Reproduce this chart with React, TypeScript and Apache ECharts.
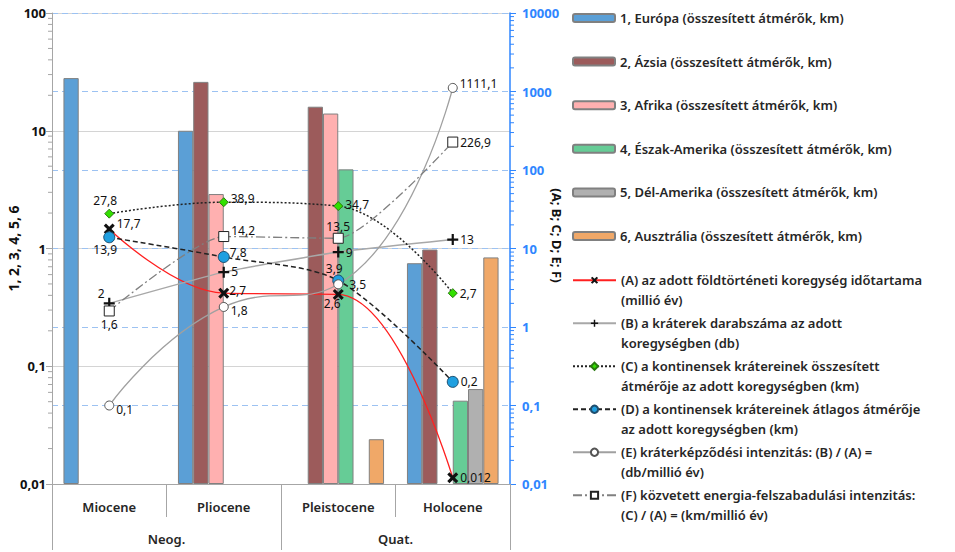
import React, { useEffect, useRef } from 'react';
import * as echarts from 'echarts';

// ---- data ----
const categories = ['Miocene', 'Pliocene', 'Pleistocene', 'Holocene'];
const groups = ['Neog.', 'Quat.'];

const europa = [28, 10, null, 0.75];
const azsia = [null, 26, 16, 0.98];
const afrika = [null, 2.9, 14, null];
const eszakAmerika = [null, null, 4.7, 0.051];
const delAmerika = [null, null, null, 0.064];
const ausztralia = [null, null, 0.024, 0.84];

const durationA = [17.7, 2.7, 2.6, 0.012];
const craterCountB = [2, 5, 9, 13];
const totalDiamC = [27.8, 38.9, 34.7, 2.7];
const avgDiamD = [13.9, 7.8, 3.9, 0.2];
const intensityE = [0.1, 1.8, 3.5, 1111.1];
const energyF = [1.6, 14.2, 13.5, 226.9];

// log-axis minor tick positions (axis decoration)
const minorSteps = [2, 3, 4, 5, 6, 7, 8, 9];
const leftDecades = [0.01, 0.1, 1, 10];
const rightDecades = [0.01, 0.1, 1, 10, 100, 1000];

const barNames = [
  '1, Európa (összesített átmérők, km)',
  '2, Ázsia (összesített átmérők, km)',
  '3, Afrika (összesített átmérők, km)',
  '4, Észak-Amerika (összesített átmérők, km)',
  '5, Dél-Amerika (összesített átmérők, km)',
  '6, Ausztrália (összesített átmérők, km)',
];
const lineNames = [
  ['(A) az adott földtörténeti koregység időtartama', '(millió év)'],
  ['(B) a kráterek darabszáma az adott', 'koregységben (db)'],
  ['(C) a kontinensek krátereinek összesített', 'átmérője az adott koregységben (km)'],
  ['(D) a kontinensek krátereinek átlagos átmérője', 'az adott koregységben (km)'],
  ['(E) kráterképződési intenzitás: (B) / (A) =', '(db/millió év)'],
  ['(F) közvetett energia-felszabadulási intenzitás:', '(C) / (A) = (km/millió év)'],
];

// ---- styles ----
const FONT = 'Noto Sans';
const BLUE = '#2f86ff';
const barColors = ['#5b9fd6', '#9c5b5b', '#ffb0b0', '#66cc96', '#b0b0b0', '#f0a868'];
const X_PATH = 'path://M0,2 L2,0 L5,3 L8,0 L10,2 L7,5 L10,8 L8,10 L5,7 L2,10 L0,8 L3,5 Z';
const PLUS_PATH = 'path://M4,0 L6,0 L6,4 L10,4 L10,6 L6,6 L6,10 L4,10 L4,6 L0,6 L0,4 L4,4 Z';

const fmt = (v: number) => String(Number(Number(v).toPrecision(6))).replace('.', ',');

function lineSeries(idx: number, values: number[], cfg: any) {
  const name = lineNames[idx].join(' ');
  return {
    name,
    type: 'line',
    yAxisIndex: 1,
    smooth: cfg.smooth,
    symbol: cfg.symbol,
    symbolSize: cfg.size,
    z: 5,
    lineStyle: cfg.lineStyle,
    itemStyle: cfg.itemStyle,
    label: {
      show: true,
      formatter: (p: any) => fmt(p.value),
      fontFamily: FONT,
      fontSize: 12,
      color: '#111',
      distance: 2,
    },
    data: values.map((v, i) => ({
      value: v,
      label: { position: cfg.pos[i], offset: cfg.off ? cfg.off[i] : [0, 0] },
    })),
  };
}

function minorTickSeries(axisIndex: number, decades: number[], side: 'left' | 'right', color: string) {
  const vals: number[][] = [];
  decades.forEach((d) => minorSteps.forEach((s) => vals.push([0, Number((s * d).toPrecision(6))])));
  return {
    type: 'custom',
    xAxisIndex: 0,
    yAxisIndex: axisIndex,
    silent: true,
    clip: false,
    z: 6,
    encode: { x: 0, y: 1 },
    data: vals,
    renderItem: (params: any, api: any) => {
      const y = api.coord([0, api.value(1)])[1];
      const cs = params.coordSys;
      const x0 = side === 'left' ? cs.x - 4 : cs.x + cs.width;
      return {
        type: 'line',
        shape: { x1: x0, y1: y, x2: x0 + 4, y2: y },
        style: { stroke: color, lineWidth: 1 },
      };
    },
  };
}

export default function App() {
  const ref = useRef<HTMLDivElement>(null);
  useEffect(() => {
    const chart = echarts.init(ref.current!, null, { renderer: 'svg' });
    const barData = [europa, azsia, afrika, eszakAmerika, delAmerika, ausztralia];
    const bars = barData.map((d, i) => ({
      name: barNames[i],
      type: 'bar',
      yAxisIndex: 0,
      barGap: '0%',
      barCategoryGap: '20%',
      itemStyle: { color: barColors[i], borderColor: '#808080', borderWidth: 1 },
      data: d.map((v) => (v == null ? '-' : v)),
    }));

    const lines = [
      lineSeries(0, durationA, {
        smooth: 0.4, symbol: X_PATH, size: 11,
        lineStyle: { color: '#ff2020', width: 1.3 },
        itemStyle: { color: '#111', borderWidth: 0 },
        pos: ['right', 'right', 'bottom', 'right'],
        off: [[0, -6], [-2, -3], [-6, -4], [0, 0]],
      }),
      lineSeries(1, craterCountB, {
        smooth: 0.15, symbol: PLUS_PATH, size: 11,
        lineStyle: { color: '#a8a8a8', width: 1.5 },
        itemStyle: { color: '#111', borderWidth: 0 },
        pos: ['top', 'right', 'right', 'right'],
        off: [[-8, 4], [0, -1], [0, 0], [0, 0]],
      }),
      lineSeries(2, totalDiamC, {
        smooth: 0.4, symbol: 'diamond', size: 9,
        lineStyle: { color: '#222', width: 1.5, type: [2, 2] },
        itemStyle: { color: '#33e000', borderColor: '#2a7a10', borderWidth: 1 },
        pos: ['top', 'right', 'right', 'right'],
        off: [[-4, 0], [0, -4], [0, -2], [0, 0]],
      }),
      lineSeries(3, avgDiamD, {
        smooth: 0.3, symbol: 'circle', size: 11,
        lineStyle: { color: '#222', width: 1.5, type: [5, 3] },
        itemStyle: { color: '#1f9fe0', borderColor: '#1e4e6e', borderWidth: 1 },
        pos: ['bottom', 'right', 'top', 'right'],
        off: [[-4, -2], [-2, -4], [-4, 2], [0, 0]],
      }),
      lineSeries(4, intensityE, {
        smooth: 0.5, symbol: 'circle', size: 9,
        lineStyle: { color: '#a0a0a0', width: 1.3 },
        itemStyle: { color: '#ffffff', borderColor: '#555', borderWidth: 1 },
        pos: ['right', 'right', 'right', 'right'],
        off: [[0, 4], [0, 4], [4, 0], [0, -4]],
      }),
      lineSeries(5, energyF, {
        smooth: 0.2, symbol: 'rect', size: 10,
        lineStyle: { color: '#808080', width: 1.3, type: [9, 3, 2, 3] },
        itemStyle: { color: '#ffffff', borderColor: '#222', borderWidth: 1 },
        pos: ['bottom', 'right', 'top', 'right'],
        off: [[0, 0], [0, -6], [0, 2], [0, 0]],
      }),
    ];

    const lineLegendText: Record<string, string> = {};
    lineNames.forEach((l) => {
      lineLegendText[l.join(' ')] = '\n' + l[0] + '\n' + l[1];
    });

    const axisLabelFmt = (v: number) => fmt(v);

    chart.setOption({
      animation: false,
      textStyle: { fontFamily: FONT },
      grid: { left: 52, right: 445, top: 13, bottom: 68, containLabel: false },
      legend: [
        {
          orient: 'vertical',
          left: 572,
          top: 9,
          padding: 0,
          itemWidth: 42,
          itemHeight: 8,
          itemGap: 25.6,
          textStyle: { fontFamily: FONT, fontSize: 13, fontWeight: 600, color: '#262626', lineHeight: 18 },
          data: barNames,
        },
        {
          orient: 'vertical',
          left: 572,
          top: 251,
          padding: 0,
          itemWidth: 43,
          itemHeight: 9,
          itemGap: -15.5,
          textStyle: { fontFamily: FONT, fontSize: 13, fontWeight: 600, color: '#262626', lineHeight: 19.5 },
          formatter: (n: string) => lineLegendText[n] || n,
          data: lineNames.map((l) => l.join(' ')),
        },
      ],
      xAxis: [
        {
          type: 'category',
          data: categories,
          position: 'bottom',
          axisLine: { show: true, lineStyle: { color: '#a6a6a6' } },
          axisTick: { show: true, interval: 0, alignWithLabel: false, length: 33, lineStyle: { color: '#a6a6a6' } },
          axisLabel: { margin: 16, fontFamily: FONT, fontSize: 13, fontWeight: 600, color: '#262626' },
        },
        {
          type: 'category',
          data: groups,
          position: 'bottom',
          axisLine: { show: false },
          axisTick: { show: true, interval: 0, alignWithLabel: false, length: 66, lineStyle: { color: '#a6a6a6' } },
          axisLabel: { margin: 48, fontFamily: FONT, fontSize: 13, fontWeight: 600, color: '#262626' },
        },
      ],
      yAxis: [
        {
          type: 'log',
          logBase: 10,
          min: 0.01,
          max: 100,
          startValue: 0.01,
          position: 'left',
          name: '1, 2, 3, 4, 5, 6',
          nameLocation: 'middle',
          nameRotate: 90,
          nameGap: 32,
          nameMoveOverlap: false,
          nameTextStyle: { fontFamily: FONT, fontSize: 14, fontWeight: 'bold', color: '#111' },
          axisLine: { show: true, lineStyle: { color: '#a6a6a6' } },
          axisTick: { show: true, length: 6, lineStyle: { color: '#a6a6a6' } },
          axisLabel: { fontFamily: FONT, fontSize: 13, fontWeight: 'bold', color: '#111', margin: 6, formatter: axisLabelFmt },
          splitLine: { show: true, lineStyle: { color: '#d4d4d4', width: 1 } },
        },
        {
          type: 'log',
          logBase: 10,
          min: 0.01,
          max: 10000,
          position: 'right',
          name: '(A; B; C; D; E; F)',
          nameLocation: 'middle',
          nameRotate: -90,
          nameGap: 40,
          nameMoveOverlap: false,
          nameTextStyle: { fontFamily: FONT, fontSize: 13, fontWeight: 'bold', color: '#111', padding: [0, 26, 0, 0] },
          axisLine: { show: true, lineStyle: { color: BLUE, width: 1.5 } },
          axisTick: { show: true, length: 6, lineStyle: { color: BLUE } },
          axisLabel: { fontFamily: FONT, fontSize: 13, fontWeight: 'bold', color: BLUE, margin: 12, formatter: axisLabelFmt },
          splitLine: { show: true, lineStyle: { color: '#9cc2f2', type: [6, 4], width: 1 } },
        },
      ],
      series: [
        ...bars,
        ...lines,
        minorTickSeries(0, leftDecades, 'left', '#a6a6a6'),
        minorTickSeries(1, rightDecades, 'right', BLUE),
      ],
    });
    return () => chart.dispose();
  }, []);
  return <div ref={ref} style={{ position: 'fixed', left: 0, top: 0, width: 955, height: 552, background: '#fff' }} />;
}
